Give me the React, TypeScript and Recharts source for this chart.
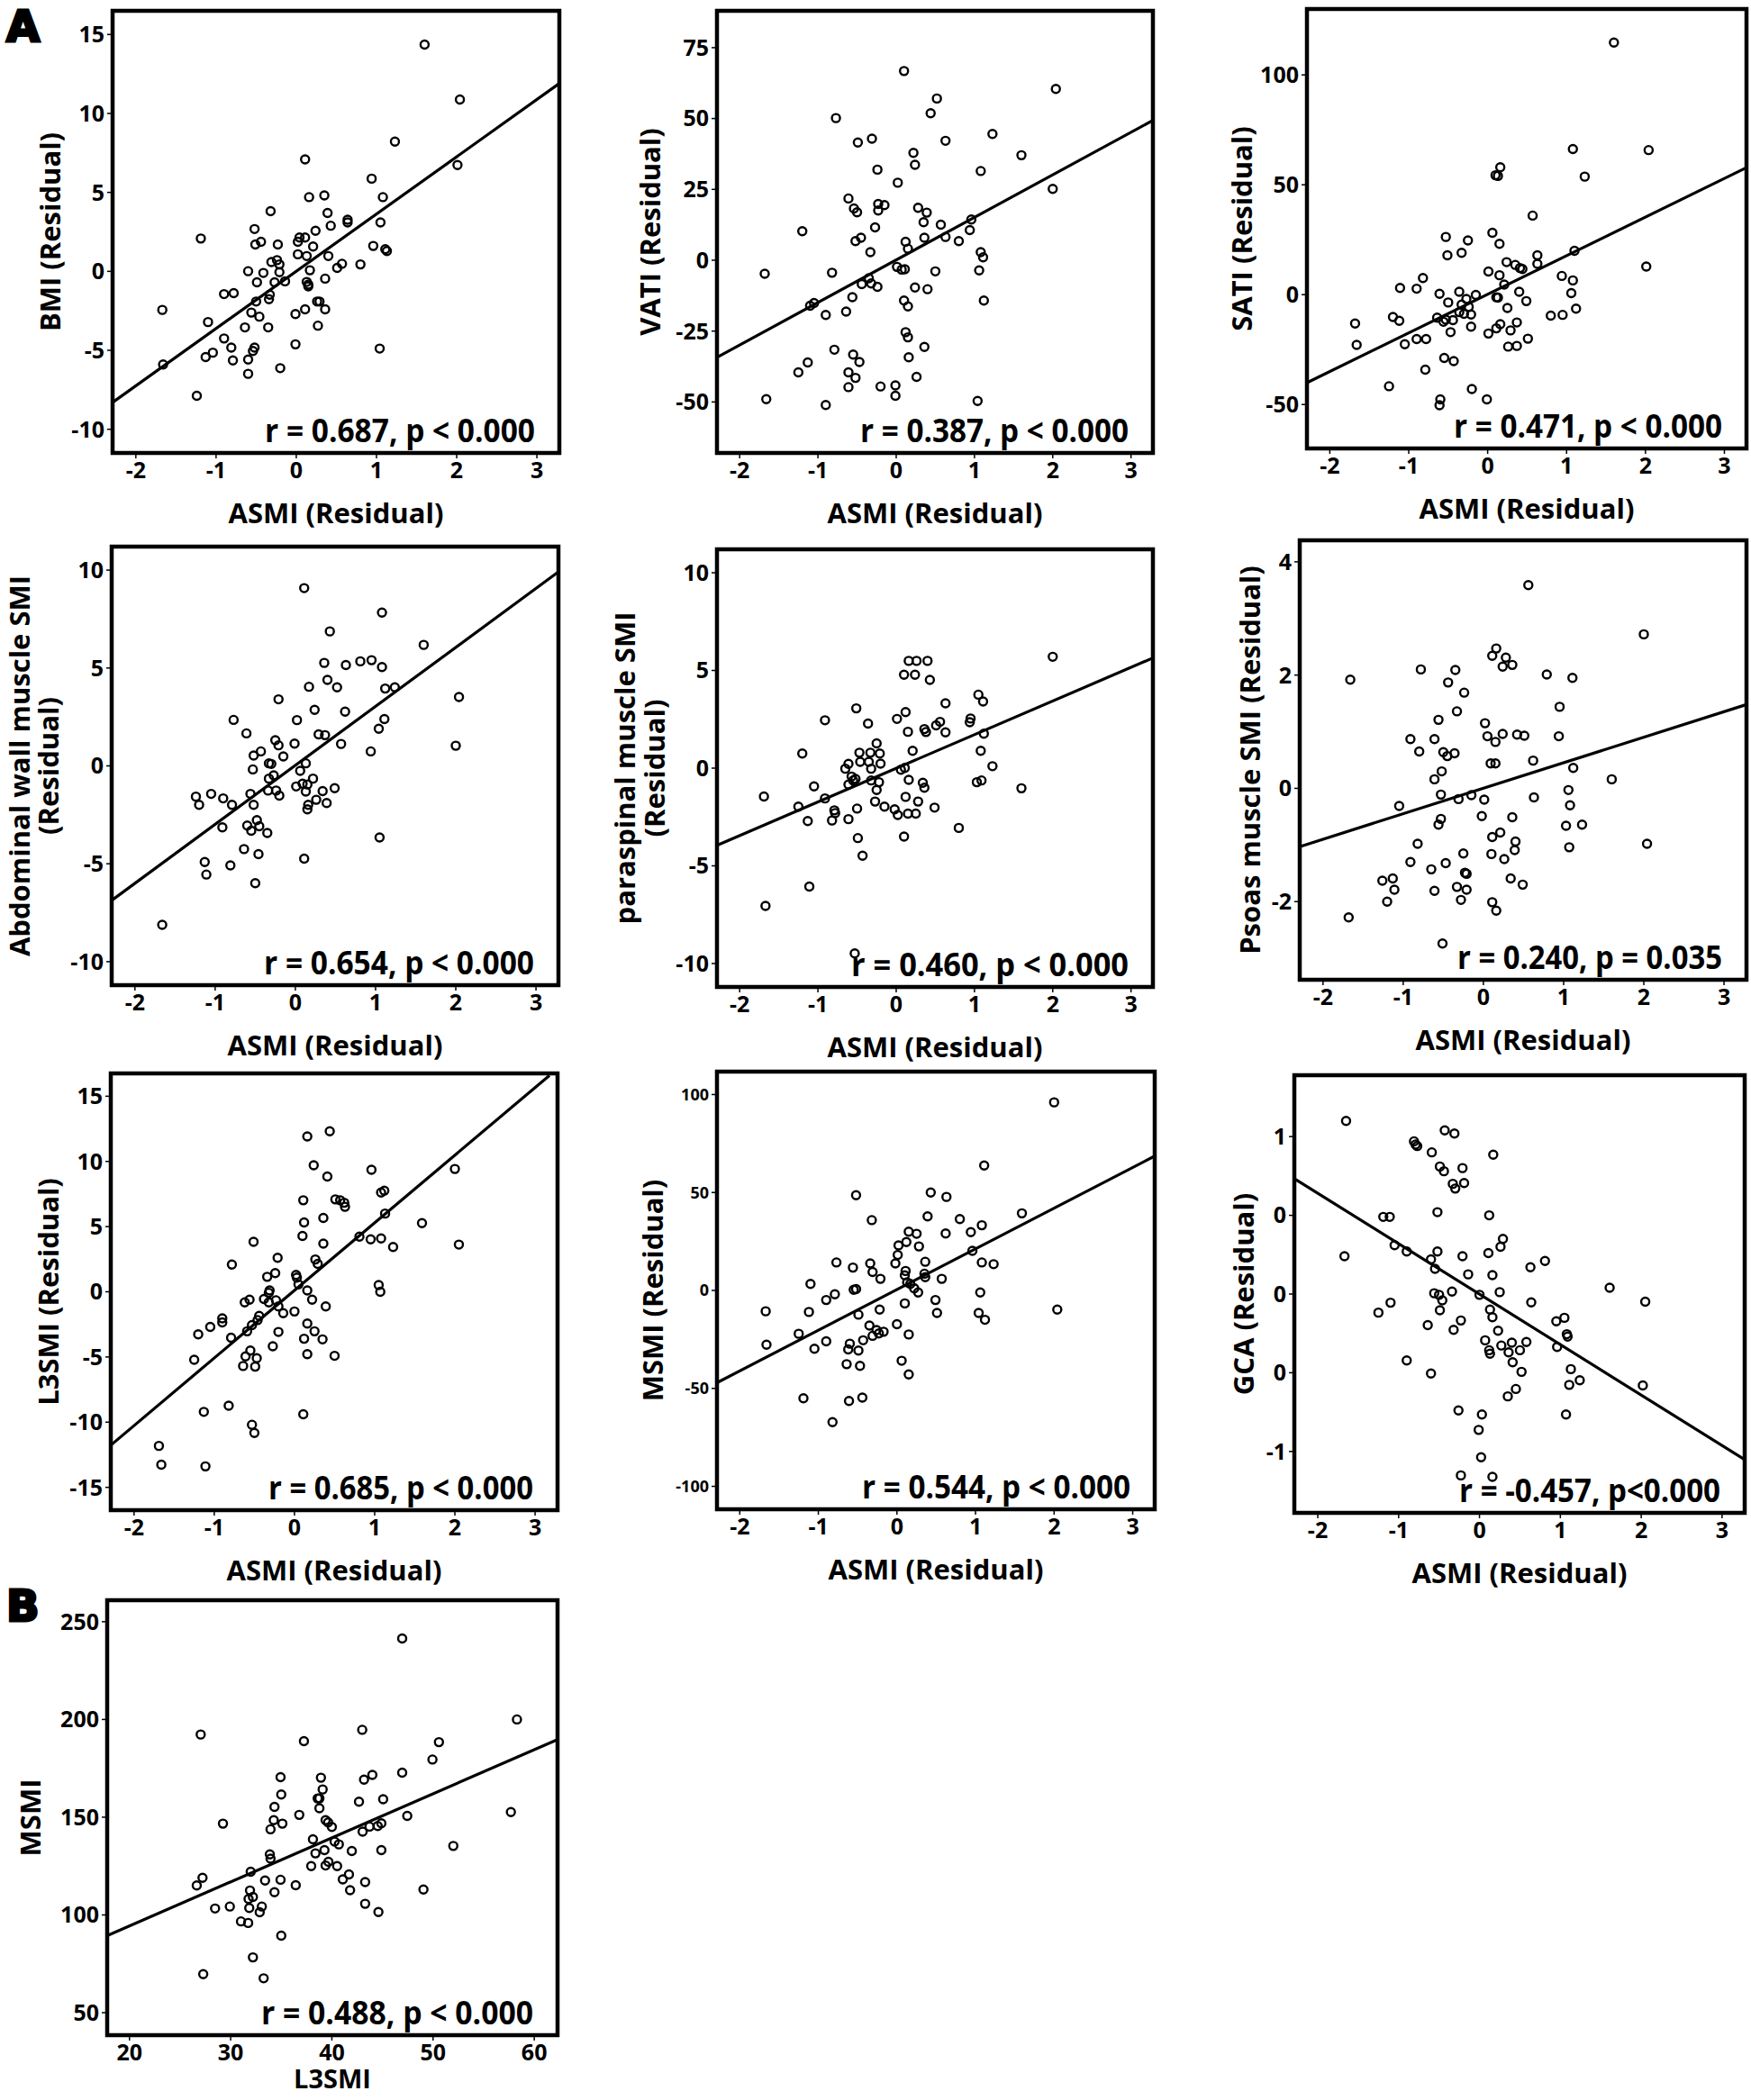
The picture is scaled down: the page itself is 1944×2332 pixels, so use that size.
import React from 'react';
import { ScatterChart, Scatter, XAxis, YAxis, ReferenceArea, ReferenceLine } from 'recharts';

type Pt = [number, number];

// ---------- shared axis values ----------
const asmiDomain: [number, number] = [-2.29, 3.28];
const asmiTicks = [-2, -1, 0, 1, 2, 3];

// ---------- BMI ----------
const bmiDomain: [number, number] = [-11.5, 16.5];
const bmiTicks = [-10, -5, 0, 5, 10, 15];
const bmiLine: Pt[] = [[-2.29, -8.3], [3.28, 11.9]];
const bmiPoints: Pt[] = [[1.60,14.36],[2.04,10.88],[1.23,8.22],[0.11,7.09],[2.01,6.73],[0.94,5.87],[1.08,4.70],[0.16,4.70],[0.35,4.81],[-0.32,3.81],[0.39,3.70],[0.64,3.27],[0.64,3.10],[1.05,3.10],[0.43,2.89],[0.24,2.57],[-0.52,2.68],[-1.19,2.08],[0.04,2.14],[0.11,2.14],[0.02,1.87],[-0.44,1.87],[-0.51,1.70],[-0.23,1.70],[0.21,1.57],[0.96,1.61],[1.11,1.40],[1.13,1.29],[0.02,1.08],[0.13,0.97],[0.40,0.97],[-0.31,0.59],[-0.24,0.71],[-0.21,0.44],[0.57,0.48],[0.51,0.22],[0.80,0.44],[-0.60,0.01],[-0.41,-0.10],[-0.21,-0.05],[0.17,0.07],[-0.49,-0.69],[-0.27,-0.69],[-0.14,-0.63],[0.13,-0.67],[0.15,-0.84],[0.15,-0.95],[0.36,-0.46],[-0.90,-1.44],[-0.78,-1.38],[-0.33,-1.48],[-0.34,-1.76],[-0.50,-1.91],[0.26,-1.91],[0.29,-1.91],[-1.67,-2.44],[-0.56,-2.61],[-0.01,-2.70],[0.11,-2.40],[0.36,-2.40],[-0.46,-2.87],[-1.10,-3.21],[-0.64,-3.55],[-0.35,-3.55],[0.27,-3.44],[-0.90,-4.25],[-0.81,-4.83],[-0.52,-4.83],[-0.54,-5.04],[-0.01,-4.62],[1.04,-4.89],[-1.04,-5.15],[-1.13,-5.43],[-0.79,-5.64],[-0.60,-5.58],[-1.66,-5.90],[-0.20,-6.13],[-0.60,-6.49],[-1.24,-7.88]];

// ---------- VATI ----------
const vatiDomain: [number, number] = [-68, 88];
const vatiTicks = [-50, -25, 0, 25, 50, 75];
const vatiLine: Pt[] = [[-2.28, -34.1], [3.27, 49.2]];
const vatiPoints: Pt[] = [[0.10,66.76],[2.04,60.45],[0.52,57.06],[-0.77,50.15],[0.44,51.84],[1.23,44.57],[-0.31,42.87],[-0.49,41.54],[0.63,42.14],[0.22,37.90],[1.60,37.05],[0.24,33.66],[-0.24,31.96],[1.08,31.47],[0.02,27.35],[2.00,25.17],[-0.61,21.78],[-0.23,19.84],[-0.15,19.47],[-0.54,18.26],[-0.50,16.93],[-0.23,17.53],[0.28,18.50],[0.39,16.80],[0.35,13.41],[0.96,14.38],[0.57,12.56],[-0.27,11.59],[-1.20,10.26],[0.94,10.62],[-0.45,7.95],[0.36,7.95],[0.63,8.20],[-0.52,6.74],[0.12,6.50],[0.80,6.74],[0.15,4.07],[-0.33,2.86],[1.08,2.86],[1.11,1.04],[0.01,-2.35],[0.07,-3.32],[0.11,-3.20],[-0.82,-4.41],[-1.68,-4.78],[0.50,-3.93],[1.06,-3.56],[-0.35,-6.35],[-0.44,-8.41],[-0.32,-8.17],[-0.24,-9.38],[0.24,-9.63],[0.40,-10.23],[-0.56,-13.02],[0.10,-14.23],[0.15,-16.29],[1.12,-14.23],[-1.10,-16.05],[-1.05,-15.08],[-0.90,-19.33],[-0.64,-18.11],[0.12,-25.39],[0.15,-27.21],[0.36,-30.60],[-0.79,-31.57],[-0.55,-33.27],[0.16,-34.24],[-1.13,-36.06],[-0.47,-35.93],[-1.25,-39.57],[-0.61,-39.57],[-0.52,-41.51],[0.26,-41.15],[-0.61,-44.78],[-0.20,-44.54],[-0.01,-44.18],[-0.01,-47.82],[-1.66,-49.03],[1.04,-49.64],[-0.90,-51.09]];

// ---------- SATI ----------
const satiDomain: [number, number] = [-70, 130];
const satiTicks = [-50, 0, 50, 100];
const satiLine: Pt[] = [[-2.29, -40.1], [3.28, 57.8]];
const satiPoints: Pt[] = [[1.60,114.75],[1.08,66.26],[2.04,65.79],[0.16,57.95],[0.10,54.34],[0.13,54.02],[1.23,53.71],[0.57,35.98],[0.06,28.13],[-0.53,26.25],[-0.25,24.68],[0.15,23.11],[-0.33,19.03],[-0.51,17.94],[0.63,17.94],[1.10,19.97],[0.24,14.80],[0.35,13.54],[0.41,12.13],[0.44,11.66],[2.01,12.76],[0.63,14.01],[0.01,10.56],[0.15,8.83],[-0.82,7.58],[0.94,8.52],[1.08,6.48],[0.21,4.60],[-1.11,3.03],[-0.90,2.71],[-0.36,1.30],[0.40,1.30],[1.06,0.67],[-0.61,0.36],[-0.15,-0.11],[0.11,-1.21],[0.13,-1.37],[-0.27,-1.99],[-0.50,-3.56],[0.49,-2.93],[-0.33,-4.50],[-0.24,-5.60],[0.25,-6.07],[1.12,-6.39],[-0.36,-7.96],[-0.30,-8.74],[-0.21,-9.06],[-1.20,-10.18],[0.80,-9.52],[0.95,-9.21],[-0.64,-10.47],[-0.53,-11.41],[-1.12,-11.88],[-0.56,-12.35],[-0.44,-11.57],[-1.68,-13.14],[0.37,-12.66],[0.16,-13.45],[0.11,-15.33],[-0.21,-14.55],[0.29,-16.27],[-0.47,-17.06],[0.01,-17.69],[-0.90,-20.19],[-0.78,-20.19],[0.51,-20.04],[-1.66,-22.86],[-1.05,-22.55],[0.26,-23.65],[0.37,-23.33],[-0.55,-28.82],[-0.43,-30.24],[-0.79,-34.16],[-1.25,-41.69],[-0.20,-42.95],[-0.01,-47.65],[-0.60,-47.65],[-0.61,-50.32]];

// ---------- Abdominal wall muscle SMI ----------
const abdDomain: [number, number] = [-11.2, 11.2];
const abdTicks = [-10, -5, 0, 5, 10];
const abdLine: Pt[] = [[-2.29, -6.87], [3.28, 9.91]];
const abdPoints: Pt[] = [[0.11,9.08],[1.08,7.83],[0.43,6.87],[1.60,6.18],[0.36,5.26],[0.63,5.15],[0.81,5.34],[0.95,5.40],[1.08,5.05],[0.40,4.39],[0.17,4.04],[0.52,4.01],[1.12,3.95],[1.24,4.01],[2.04,3.52],[-0.21,3.40],[0.24,2.86],[0.62,2.77],[-0.77,2.35],[0.02,2.34],[1.11,2.39],[1.04,1.90],[-0.61,1.66],[0.29,1.61],[0.37,1.57],[-0.25,1.31],[-0.21,1.05],[-0.01,1.14],[0.57,1.12],[2.00,1.03],[-0.43,0.74],[0.94,0.74],[-0.52,0.53],[-0.15,0.48],[-0.33,0.13],[-0.30,0.10],[0.13,0.13],[-0.53,-0.18],[0.06,-0.25],[-0.27,-0.48],[-0.33,-0.65],[0.22,-0.65],[0.09,-0.91],[0.15,-0.95],[0.01,-1.05],[0.49,-1.14],[-0.34,-1.26],[-0.24,-1.26],[0.34,-1.29],[0.13,-1.31],[-1.24,-1.57],[-1.05,-1.43],[-0.90,-1.66],[-0.56,-1.43],[-0.20,-1.52],[-1.20,-1.99],[-0.79,-1.99],[-0.52,-1.99],[0.16,-1.99],[0.26,-1.73],[0.39,-1.90],[0.15,-2.22],[-0.48,-2.77],[-0.91,-3.14],[-0.60,-3.05],[-0.45,-3.08],[-0.55,-3.31],[-0.35,-3.43],[1.05,-3.66],[-0.64,-4.25],[-0.46,-4.51],[0.11,-4.74],[-1.13,-4.91],[-0.81,-5.08],[-1.11,-5.55],[-0.50,-5.99],[-1.66,-8.12]];

// ---------- paraspinal muscle SMI ----------
const paraDomain: [number, number] = [-11.2, 11.2];
const paraTicks = [-10, -5, 0, 5, 10];
const paraLine: Pt[] = [[-2.29, -3.95], [3.28, 5.64]];
const paraPoints: Pt[] = [[2.00,5.70],[0.16,5.49],[0.26,5.49],[0.40,5.49],[0.10,4.78],[0.24,4.78],[0.43,4.52],[1.05,3.76],[1.11,3.41],[0.63,3.32],[-0.51,3.06],[0.12,2.87],[0.01,2.52],[-0.91,2.45],[0.95,2.54],[0.94,2.35],[0.56,2.37],[-0.36,2.28],[0.51,2.19],[0.36,2.00],[0.38,1.85],[0.15,1.86],[0.63,1.83],[1.12,1.76],[-0.25,1.27],[-1.20,0.75],[0.21,0.89],[1.08,0.89],[-0.47,0.79],[-0.33,0.79],[-0.21,0.75],[-0.46,0.32],[-0.35,0.32],[-0.61,0.22],[-0.20,0.23],[-0.65,-0.03],[-0.32,-0.03],[0.06,-0.08],[0.11,0.01],[1.23,0.10],[-0.57,-0.43],[-0.52,-0.55],[-0.55,-0.63],[-0.32,-0.63],[-0.22,-0.72],[0.16,-0.60],[-0.61,-0.84],[0.34,-0.75],[0.36,-1.00],[1.03,-0.72],[1.09,-0.63],[-1.05,-0.93],[1.60,-1.03],[-0.25,-1.12],[-1.69,-1.45],[-0.91,-1.55],[0.12,-1.47],[-0.27,-1.71],[0.28,-1.71],[-1.25,-1.97],[-0.50,-2.07],[-0.15,-1.97],[-0.02,-2.11],[0.49,-2.02],[-0.79,-2.16],[-0.78,-2.30],[0.02,-2.40],[0.15,-2.33],[0.25,-2.33],[-1.13,-2.71],[-0.82,-2.68],[-0.61,-2.61],[0.80,-3.06],[0.10,-3.50],[-0.49,-3.58],[-0.43,-4.48],[-1.11,-6.06],[-1.67,-7.05],[-0.53,-9.48]];

// ---------- Psoas muscle SMI ----------
const psoasDomain: [number, number] = [-3.38, 4.38];
const psoasTicks = [-2, 0, 2, 4];
const psoasLine: Pt[] = [[-2.29, -1.03], [3.28, 1.48]];
const psoasPoints: Pt[] = [[0.56,3.59],[2.00,2.72],[0.16,2.47],[0.11,2.34],[0.28,2.31],[0.24,2.15],[0.36,2.18],[-0.78,2.10],[-0.35,2.09],[-1.66,1.92],[0.79,2.01],[1.11,1.95],[-0.44,1.87],[-0.24,1.69],[0.95,1.44],[-0.33,1.36],[-0.56,1.21],[0.02,1.15],[0.24,0.96],[0.42,0.95],[0.51,0.93],[0.05,0.92],[0.94,0.92],[-0.91,0.87],[-0.61,0.87],[0.15,0.82],[-0.80,0.65],[-0.50,0.64],[-0.36,0.62],[-0.45,0.57],[0.62,0.49],[0.09,0.44],[0.15,0.44],[1.12,0.36],[-0.52,0.30],[-0.61,0.16],[1.60,0.16],[1.06,-0.03],[-0.53,-0.11],[-0.15,-0.12],[-0.31,-0.19],[0.01,-0.20],[0.63,-0.16],[-1.05,-0.31],[1.08,-0.30],[-0.02,-0.49],[0.36,-0.51],[-0.53,-0.54],[-0.56,-0.64],[1.03,-0.66],[1.23,-0.64],[0.21,-0.78],[0.11,-0.86],[0.40,-0.94],[-0.82,-0.98],[2.04,-0.98],[1.07,-1.04],[0.39,-1.09],[-0.25,-1.15],[0.10,-1.16],[0.26,-1.25],[-0.91,-1.30],[-0.47,-1.32],[-0.65,-1.43],[-0.23,-1.49],[-0.21,-1.51],[-1.26,-1.63],[-1.13,-1.59],[0.34,-1.59],[0.49,-1.70],[-0.33,-1.74],[-1.11,-1.79],[-0.61,-1.81],[-0.21,-1.79],[-1.20,-2.00],[-0.28,-1.97],[0.11,-2.01],[0.16,-2.16],[-1.68,-2.28],[-0.51,-2.74]];

// ---------- L3SMI ----------
const l3Domain: [number, number] = [-16.75, 16.75];
const l3Ticks = [-15, -10, -5, 0, 5, 10, 15];
const l3Line: Pt[] = [[-2.29, -11.77], [3.18, 16.6]];
const l3Points: Pt[] = [[0.44,12.31],[0.16,11.92],[0.24,9.70],[0.96,9.36],[2.00,9.42],[0.41,8.84],[1.08,7.62],[1.12,7.75],[0.11,7.02],[0.51,7.09],[0.57,7.02],[0.62,6.83],[0.63,6.52],[0.36,5.66],[1.13,6.00],[0.12,5.32],[1.59,5.27],[0.10,4.28],[0.81,4.23],[0.95,4.02],[1.08,4.09],[-0.51,3.83],[0.36,3.70],[1.23,3.44],[2.05,3.62],[-0.21,2.61],[0.26,2.48],[0.29,2.14],[-0.78,2.09],[-0.24,1.43],[-0.34,1.15],[0.02,1.30],[0.03,1.09],[0.05,0.57],[1.05,0.52],[-0.31,0.10],[0.16,0.10],[1.07,0.00],[-0.32,-0.08],[-0.38,-0.55],[-0.56,-0.60],[-0.62,-0.81],[-0.32,-0.81],[-0.23,-0.65],[0.22,-0.60],[-0.20,-1.12],[0.39,-1.12],[-0.14,-1.64],[0.00,-1.51],[-0.44,-1.85],[-0.90,-2.04],[-0.90,-2.35],[-0.46,-2.17],[-0.53,-2.56],[0.16,-2.43],[-1.05,-2.69],[-0.59,-3.03],[-0.20,-3.08],[0.25,-3.03],[-1.20,-3.26],[-0.79,-3.52],[0.12,-3.60],[0.35,-3.65],[-0.27,-4.18],[-0.55,-4.51],[0.16,-4.78],[0.50,-4.91],[-0.61,-4.96],[-0.47,-5.09],[-1.25,-5.22],[-0.64,-5.69],[-0.49,-5.74],[-0.82,-8.74],[-1.13,-9.21],[0.11,-9.39],[-0.53,-10.20],[-0.50,-10.83],[-1.69,-11.82],[-1.66,-13.26],[-1.11,-13.39]];

// ---------- MSMI (Residual) ----------
const msmiResDomain: [number, number] = [-111.7, 111.7];
const msmiResTicks = [-100, -50, 0, 50, 100];
const msmiResLine: Pt[] = [[-2.28, -46.9], [3.28, 68.6]];
const msmiResPoints: Pt[] = [[2.00,96.0],[1.11,63.76],[-0.52,48.61],[0.43,50.0],[0.63,47.74],[-0.32,35.89],[0.39,37.80],[0.80,36.41],[1.59,39.37],[1.08,33.28],[0.15,29.97],[0.25,28.92],[0.62,29.09],[0.94,29.79],[0.12,24.74],[0.02,23.00],[0.28,22.47],[0.96,20.21],[0.01,18.12],[-0.77,14.29],[-0.34,13.76],[-0.02,13.76],[0.36,14.63],[1.08,14.29],[1.23,13.41],[-0.56,11.67],[-0.31,9.41],[0.11,9.93],[0.10,7.67],[0.35,8.54],[0.36,6.79],[-0.21,5.92],[0.57,5.92],[-1.10,3.31],[0.13,4.18],[0.17,3.31],[-0.55,0.35],[-0.52,0.70],[0.22,1.05],[0.27,-1.05],[-0.79,-1.92],[1.06,-1.05],[-0.90,-4.88],[0.49,-4.88],[0.10,-6.62],[-1.67,-10.63],[-1.12,-10.98],[-0.22,-9.76],[0.51,-11.50],[1.04,-11.50],[2.04,-9.76],[-0.49,-12.37],[1.12,-14.98],[0.00,-17.25],[-0.35,-17.94],[-0.26,-20.21],[-0.17,-21.08],[-0.23,-21.95],[-0.31,-23.17],[-1.25,-22.13],[0.15,-22.47],[-1.66,-27.70],[-0.90,-25.96],[-0.43,-25.44],[-1.05,-29.79],[-0.60,-27.18],[-0.62,-30.14],[-0.49,-30.66],[0.06,-35.89],[-0.64,-37.63],[-0.47,-38.50],[0.15,-42.86],[-1.19,-55.05],[-0.44,-54.70],[-0.61,-56.45],[-0.82,-67.25]];

// ---------- GCA ----------
const gcaDomain: [number, number] = [-1.39, 1.39];
const gcaTicks = [-1, -0.5, 0, 0.5, 1];
const gcaTickLabels = ['-1', '0', '0', '0', '1'];
const gcaLine: Pt[] = [[-2.29, 0.733], [3.28, -1.052]];
const gcaPoints: Pt[] = [[-1.65,1.10],[-0.43,1.04],[-0.31,1.02],[-0.81,0.97],[-0.79,0.95],[-0.77,0.94],[-0.59,0.90],[0.17,0.885],[-0.49,0.81],[-0.44,0.78],[-0.21,0.80],[-0.33,0.70],[-0.30,0.67],[-0.19,0.705],[-0.52,0.52],[-1.19,0.49],[-1.11,0.49],[0.12,0.50],[0.29,0.35],[0.26,0.30],[-1.05,0.31],[-0.90,0.27],[-0.52,0.27],[0.11,0.26],[-1.67,0.24],[-0.21,0.24],[-0.60,0.22],[0.81,0.21],[-0.55,0.16],[0.63,0.17],[-0.14,0.125],[0.16,0.12],[1.61,0.04],[-0.56,0.005],[-0.34,0.016],[-0.50,-0.005],[0.00,-0.005],[0.25,0.012],[-0.46,-0.04],[-1.10,-0.055],[0.64,-0.053],[2.05,-0.049],[-1.25,-0.118],[-0.49,-0.103],[0.13,-0.099],[0.16,-0.147],[0.95,-0.173],[1.05,-0.151],[-0.64,-0.197],[-0.23,-0.168],[-0.32,-0.227],[0.23,-0.233],[1.08,-0.255],[1.09,-0.27],[0.07,-0.294],[0.40,-0.309],[0.58,-0.305],[0.27,-0.327],[0.96,-0.336],[0.12,-0.357],[0.36,-0.37],[0.50,-0.357],[0.13,-0.379],[-0.90,-0.422],[0.41,-0.433],[0.52,-0.494],[1.13,-0.477],[-0.60,-0.505],[1.24,-0.548],[1.11,-0.577],[2.02,-0.581],[0.45,-0.603],[0.35,-0.65],[-0.26,-0.739],[0.03,-0.765],[1.07,-0.765],[-0.01,-0.863],[0.02,-1.037],[-0.23,-1.152],[0.16,-1.161]];

// ---------- B: MSMI vs L3SMI ----------
const l3smiDomain: [number, number] = [17.8, 62.3];
const l3smiTicks = [20, 30, 40, 50, 60];
const msmiDomain: [number, number] = [38.5, 261];
const msmiTicks = [50, 100, 150, 200, 250];
const bLine: Pt[] = [[17.8, 89.4], [62.3, 189.7]];
const bPoints: Pt[] = [[46.95,241.4],[58.29,200.0],[27.04,192.3],[43.0,194.7],[37.24,188.9],[50.58,188.4],[49.94,179.5],[46.95,172.8],[44.0,171.6],[34.93,170.5],[38.92,170.2],[43.18,169.2],[39.09,164.2],[35.0,161.6],[38.6,159.6],[38.77,159.6],[42.68,157.9],[45.07,159.2],[34.33,155.3],[38.77,154.6],[57.69,152.6],[36.78,151.2],[47.45,150.7],[34.26,148.5],[39.38,148.5],[39.63,147.3],[29.24,146.7],[35.11,146.7],[44.89,146.9],[44.53,145.5],[43.72,145.2],[40.0,145.0],[33.94,143.8],[43.04,142.6],[38.13,138.7],[40.27,137.5],[40.69,136.1],[52.0,135.3],[39.27,133.2],[41.97,132.7],[44.89,133.2],[38.38,131.5],[33.87,131.0],[33.94,128.8],[39.66,127.2],[37.96,125.0],[39.38,125.3],[40.52,125.0],[31.98,122.1],[41.69,120.7],[27.22,119.0],[33.4,117.6],[34.93,118.0],[41.08,118.2],[43.29,116.8],[26.65,115.1],[36.43,115.2],[31.91,112.5],[41.8,112.7],[49.05,113.0],[34.33,111.6],[32.2,109.2],[31.77,108.2],[28.46,103.3],[29.92,104.3],[31.84,103.6],[33.08,104.3],[32.87,101.4],[43.29,105.7],[44.6,101.5],[31.02,96.7],[31.73,95.9],[35.0,89.4],[32.2,78.3],[27.29,69.7],[33.26,67.6]];

// ---------- panel layout ----------
type Frame = { L: number; R: number; T: number; B: number };
type PanelCfg = {
  frame: Frame;
  points: Pt[];
  xDomain: [number, number];
  xTicks: number[];
  yDomain: [number, number];
  yTicks: number[];
  line: Pt[];
  yTitle: { t: string; dx: number }[];
  xTitle: string;
  xTitleDy?: number;
  rText: string;
  rLen: number;
  yTickSize?: number;
  yFmt?: (v: number) => string;
};

const asmiTitle = 'ASMI (Residual)';

const panels: PanelCfg[] = [
  { frame: { L: 125, R: 621, T: 12, B: 503 }, points: bmiPoints, xDomain: asmiDomain, xTicks: asmiTicks, yDomain: bmiDomain, yTicks: bmiTicks, line: bmiLine, yTitle: [{ t: 'BMI (Residual)', dx: -70 }], xTitle: asmiTitle, rText: 'r = 0.687, p < 0.000', rLen: 300 },
  { frame: { L: 796, R: 1280, T: 12, B: 503 }, points: vatiPoints, xDomain: asmiDomain, xTicks: asmiTicks, yDomain: vatiDomain, yTicks: vatiTicks, line: vatiLine, yTitle: [{ t: 'VATI (Residual)', dx: -75 }], xTitle: asmiTitle, rText: 'r = 0.387, p < 0.000', rLen: 298 },
  { frame: { L: 1451, R: 1939, T: 10, B: 498 }, points: satiPoints, xDomain: asmiDomain, xTicks: asmiTicks, yDomain: satiDomain, yTicks: satiTicks, line: satiLine, yTitle: [{ t: 'SATI (Residual)', dx: -73 }], xTitle: asmiTitle, rText: 'r = 0.471, p < 0.000', rLen: 298 },
  { frame: { L: 124, R: 620, T: 607, B: 1094 }, points: abdPoints, xDomain: asmiDomain, xTicks: asmiTicks, yDomain: abdDomain, yTicks: abdTicks, line: abdLine, yTitle: [{ t: 'Abdominal wall muscle SMI', dx: -103 }, { t: '(Residual)', dx: -71 }], xTitle: asmiTitle, rText: 'r = 0.654, p < 0.000', rLen: 300 },
  { frame: { L: 796, R: 1280, T: 610, B: 1096 }, points: paraPoints, xDomain: asmiDomain, xTicks: asmiTicks, yDomain: paraDomain, yTicks: paraTicks, line: paraLine, yTitle: [{ t: 'paraspinal muscle SMI', dx: -103 }, { t: '(Residual)', dx: -70 }], xTitle: asmiTitle, rText: 'r = 0.460, p < 0.000', rLen: 308 },
  { frame: { L: 1443, R: 1939, T: 600, B: 1088 }, points: psoasPoints, xDomain: asmiDomain, xTicks: asmiTicks, yDomain: psoasDomain, yTicks: psoasTicks, line: psoasLine, yTitle: [{ t: 'Psoas muscle SMI (Residual)', dx: -56 }], xTitle: asmiTitle, rText: 'r = 0.240, p = 0.035', rLen: 294 },
  { frame: { L: 123, R: 619, T: 1192, B: 1677 }, points: l3Points, xDomain: asmiDomain, xTicks: asmiTicks, yDomain: l3Domain, yTicks: l3Ticks, line: l3Line, yTitle: [{ t: 'L3SMI (Residual)', dx: -70 }], xTitle: asmiTitle, rText: 'r = 0.685, p < 0.000', rLen: 294 },
  { frame: { L: 796, R: 1282, T: 1190, B: 1676 }, points: msmiResPoints, xDomain: asmiDomain, xTicks: asmiTicks, yDomain: msmiResDomain, yTicks: msmiResTicks, line: msmiResLine, yTitle: [{ t: 'MSMI (Residual)', dx: -72 }], xTitle: asmiTitle, rText: 'r = 0.544, p < 0.000', rLen: 298, yTickSize: 18 },
  { frame: { L: 1437, R: 1937, T: 1194, B: 1680 }, points: gcaPoints, xDomain: asmiDomain, xTicks: asmiTicks, yDomain: gcaDomain, yTicks: gcaTicks, line: gcaLine, yTitle: [{ t: 'GCA (Residual)', dx: -57 }], xTitle: asmiTitle, rText: 'r = -0.457, p<0.000', rLen: 290, yFmt: (v: number) => gcaTickLabels[gcaTicks.indexOf(v)] ?? String(v) },
  { frame: { L: 119, R: 619, T: 1777, B: 2260 }, points: bPoints, xDomain: l3smiDomain, xTicks: l3smiTicks, yDomain: msmiDomain, yTicks: msmiTicks, line: bLine, yTitle: [{ t: 'MSMI', dx: -86 }], xTitle: 'L3SMI', xTitleDy: 47, rText: 'r = 0.488, p < 0.000', rLen: 302 },
];

const FONT = '"Open Sans", "DejaVu Sans", sans-serif';

const Ring = (props: any) => {
  const { cx, cy } = props;
  if (cx == null || cy == null) return null;
  return <circle cx={cx} cy={cy} r={4.5} fill="none" stroke="#000" strokeWidth={2.4} />;
};

function Panel({ cfg }: { cfg: PanelCfg }) {
  const { L, R, T, B } = cfg.frame;
  const yAxisW = 110;
  const padTop = 10;
  const padRight = 4;
  const xAxisH = 50;
  const width = R - L + yAxisW + padRight;
  const height = B - T + padTop + xAxisH;
  const data = cfg.points.map(([x, y]) => ({ x, y }));
  const [x1, x2] = cfg.xDomain;
  const [y1, y2] = cfg.yDomain;
  const tickStyle = { fill: '#000', fontSize: 25, fontWeight: 700, fontFamily: FONT };
  return (
    <div style={{ position: 'absolute', left: L - yAxisW, top: T - padTop }}>
      <ScatterChart width={width} height={height} margin={{ top: padTop, right: padRight, bottom: 0, left: 0 }}>
        <XAxis
          type="number"
          dataKey="x"
          domain={cfg.xDomain}
          ticks={cfg.xTicks}
          allowDataOverflow
          interval={0}
          height={xAxisH}
          axisLine={false}
          tickLine={{ stroke: '#000', strokeWidth: 1.5 }}
          tickSize={6}
          tickMargin={4}
          tick={tickStyle}
        />
        <YAxis
          type="number"
          dataKey="y"
          domain={cfg.yDomain}
          ticks={cfg.yTicks}
          allowDataOverflow
          interval={0}
          width={yAxisW}
          axisLine={false}
          tickLine={{ stroke: '#000', strokeWidth: 1.5 }}
          tickSize={6}
          tickMargin={3}
          tickFormatter={cfg.yFmt}
          tick={{ ...tickStyle, fontSize: cfg.yTickSize ?? 25 }}
        />
        <ReferenceArea x1={x1} x2={x2} y1={y1} y2={y2} fill="none" fillOpacity={0} stroke="#000" strokeWidth={4.5} ifOverflow="visible" />
        <ReferenceLine
          segment={[{ x: cfg.line[0][0], y: cfg.line[0][1] }, { x: cfg.line[1][0], y: cfg.line[1][1] }]}
          stroke="#000"
          strokeWidth={3.2}
          ifOverflow="visible"
        />
        <Scatter data={data} isAnimationActive={false} shape={Ring} />
      </ScatterChart>
    </div>
  );
}

function Texts() {
  const letterFont = '"DejaVu Sans", sans-serif';
  return (
    <svg width={1944} height={2332} style={{ position: 'absolute', left: 0, top: 0, pointerEvents: 'none' }}>
      <text x={7} y={46} fontSize={48} fontWeight={700} fontFamily={letterFont} stroke="#000" strokeWidth={3} fill="#000">A</text>
      <text x={7} y={1800} fontSize={48} fontWeight={700} fontFamily={letterFont} stroke="#000" strokeWidth={3} fill="#000">B</text>
      {panels.map((p, i) => {
        const { L, R, T, B } = p.frame;
        const cy = (T + B) / 2;
        return (
          <g key={i} fontFamily={FONT} fontWeight={700} fill="#000">
            {p.yTitle.map((yt, j) => (
              <text
                key={j}
                x={L + yt.dx}
                y={cy}
                fontSize={31}
                textAnchor="middle"
                dominantBaseline="central"
                transform={`rotate(-90 ${L + yt.dx} ${cy})`}
              >
                {yt.t}
              </text>
            ))}
            <text x={(L + R) / 2} y={B + (p.xTitleDy ?? 66)} fontSize={p.xTitleDy ? 29 : 31} textAnchor="middle" dominantBaseline="central">
              {p.xTitle}
            </text>
            <text x={R - 27} y={B - 12} fontSize={36} textAnchor="end" textLength={p.rLen} lengthAdjust="spacingAndGlyphs">
              {p.rText}
            </text>
          </g>
        );
      })}
    </svg>
  );
}

export default function App() {
  return (
    <div style={{ position: 'absolute', left: 0, top: 0, width: 1944, height: 2332, background: '#fff', overflow: 'hidden' }}>
      {panels.map((p, i) => (
        <Panel key={i} cfg={p} />
      ))}
      <Texts />
    </div>
  );
}
